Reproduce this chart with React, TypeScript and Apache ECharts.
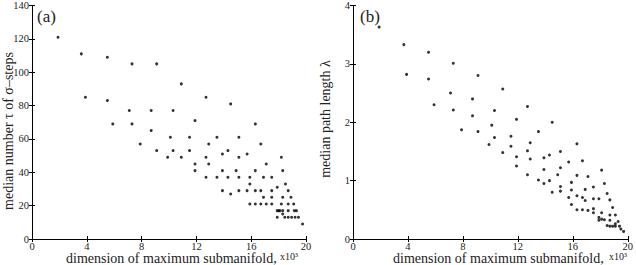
import React, { useEffect, useRef } from "react";
import * as echarts from "echarts";

// panel (a): median number tau of sigma-steps vs dimension (x10^3)
const tauPoints: [number, number][] = [
  [1.9, 121], [3.6, 111], [3.9, 85], [5.5, 109], [5.5, 83], [5.9, 69], [7.1, 77], [7.3, 105], [7.3, 69],
  [7.9, 57], [8.7, 77], [8.7, 65], [9.1, 105], [9.1, 53], [9.9, 49], [10.1, 61], [10.3, 77], [10.3, 53],
  [10.9, 93], [10.9, 49], [11.5, 61], [11.5, 53], [11.9, 71], [11.9, 45], [11.9, 41], [12.7, 85], [12.7, 49],
  [12.7, 37], [12.9, 57], [12.9, 45], [13.5, 61], [13.5, 37], [13.9, 51], [13.9, 41], [13.9, 29], [14.3, 53],
  [14.3, 37], [14.5, 81], [14.5, 27], [14.9, 41], [15.1, 61], [15.1, 49], [15.1, 37], [15.1, 29], [15.7, 51],
  [15.7, 29], [15.9, 37], [15.9, 33], [15.9, 21], [16.3, 69], [16.3, 41], [16.3, 29], [16.3, 21], [16.7, 57],
  [16.7, 29], [16.7, 21], [16.9, 37], [16.9, 25], [17.1, 45], [17.1, 21], [17.5, 37], [17.5, 29], [17.5, 25],
  [17.5, 21], [17.9, 31], [17.9, 17], [17.9, 13], [18.0, 17], [18.1, 17], [18.2, 49], [18.2, 21], [18.3, 41],
  [18.3, 25], [18.3, 17], [18.3, 15], [18.5, 33], [18.45, 13], [18.7, 29], [18.7, 21], [18.7, 17], [18.7, 13],
  [18.9, 25], [18.95, 13], [19.1, 21], [19.15, 17], [19.2, 13], [19.3, 17], [19.45, 13], [19.75, 9],
];

// panel (b): median path length lambda vs dimension (x10^3)
const lambdaPoints: [number, number][] = [
  [1.9, 3.63], [3.7, 3.33], [3.9, 2.82], [5.5, 3.2], [5.5, 2.74], [5.9, 2.3], [7.1, 2.5], [7.3, 3.01], [7.3, 2.21],
  [7.9, 1.87], [8.7, 2.4], [8.7, 2.11], [9.1, 2.8], [9.1, 1.84], [9.9, 1.62], [10.1, 1.95], [10.3, 2.2], [10.3, 1.74],
  [10.9, 2.57], [10.9, 1.48], [11.5, 1.76], [11.5, 1.59], [11.9, 2.05], [11.9, 1.41], [11.9, 1.25], [12.7, 2.27],
  [12.7, 1.51], [12.7, 1.1], [12.9, 1.65], [12.9, 1.37], [13.5, 1.84], [13.5, 1.01], [13.9, 1.39], [13.9, 1.19],
  [13.9, 0.95], [14.3, 1.44], [14.3, 1.0], [14.5, 2.0], [14.5, 0.8], [14.9, 1.1], [15.1, 1.5], [15.1, 1.22],
  [15.1, 0.9], [15.1, 0.82], [15.7, 1.32], [15.7, 0.71], [15.9, 0.97], [15.9, 0.84], [15.9, 0.59], [16.3, 1.63],
  [16.3, 1.09], [16.3, 0.74], [16.3, 0.5], [16.7, 1.34], [16.7, 0.71], [16.7, 0.5], [16.9, 0.85], [16.9, 0.66],
  [17.1, 1.07], [17.1, 0.49], [17.5, 0.89], [17.5, 0.69], [17.5, 0.52], [17.5, 0.45], [17.9, 0.69], [17.9, 0.37],
  [17.9, 0.32], [18.1, 1.18], [18.1, 0.45], [18.1, 0.34], [18.3, 0.95], [18.3, 0.33], [18.5, 0.78], [18.5, 0.23],
  [18.7, 0.67], [18.7, 0.41], [18.7, 0.32], [18.7, 0.22], [18.9, 0.54], [18.9, 0.22], [19.1, 0.41], [19.1, 0.26],
  [19.1, 0.22], [19.3, 0.3], [19.4, 0.22], [19.5, 0.17], [19.7, 0.13],
];

const xTitle = "dimension of maximum submanifold,";
const xScale = "x10³";
const yTitleA = "median number τ of σ–steps";
const yTitleB = "median path length λ";

const FONT = "Liberation Serif";
const TXT = "#222";

export default function App() {
  const ref = useRef<HTMLDivElement>(null);
  useEffect(() => {
    const chart = echarts.init(ref.current!, null, { renderer: "svg" });
    const tick = { show: true, inside: true, length: 3, lineStyle: { color: "#000", width: 1 } };
    const lab = { fontFamily: FONT, fontSize: 10.5, color: TXT };
    const mkX = (gi: number, top: boolean) => ({
      type: "value", gridIndex: gi, min: 0, max: 20, interval: 4, position: top ? "top" : "bottom",
      axisLine: { show: true, lineStyle: { color: "#000", width: 1 } }, axisTick: tick,
      axisLabel: top ? { show: false } : { ...lab, margin: 2 }, splitLine: { show: false },
    });
    const mkY = (gi: number, right: boolean, max: number, interval: number) => ({
      type: "value", gridIndex: gi, min: 0, max, interval, position: right ? "right" : "left",
      axisLine: { show: true, lineStyle: { color: "#000", width: 1 } }, axisTick: tick,
      axisLabel: right ? { show: false } : { ...lab, margin: 3 }, splitLine: { show: false },
    });
    const txt = (text: string, size: number, extra: any = {}) => ({
      text, fontFamily: FONT, fontSize: size, fill: TXT, ...extra,
    });
    chart.setOption({
      animation: false,
      backgroundColor: "#fff",
      grid: [
        { left: 32, top: 5, width: 274, height: 234 },
        { left: 353, top: 5, width: 276, height: 234 },
      ],
      xAxis: [mkX(0, false), mkX(0, true), mkX(1, false), mkX(1, true)],
      yAxis: [mkY(0, false, 140, 20), mkY(0, true, 140, 20), mkY(1, false, 4, 1), mkY(1, true, 4, 1)],
      series: [
        { type: "scatter", xAxisIndex: 0, yAxisIndex: 0, data: tauPoints, symbol: "circle", symbolSize: 3, itemStyle: { color: "#000" } },
        { type: "scatter", xAxisIndex: 2, yAxisIndex: 2, data: lambdaPoints, symbol: "circle", symbolSize: 3, itemStyle: { color: "#000" } },
      ],
      graphic: [
        { type: "text", left: 37, top: 8, style: txt("(a)", 17) },
        { type: "text", left: 360, top: 8, style: txt("(b)", 17) },
        { type: "text", left: 66, top: 251, style: txt(xTitle, 14) },
        { type: "text", left: 280, top: 251, style: txt(xScale, 10) },
        { type: "text", left: 393, top: 251, style: txt(xTitle, 14) },
        { type: "text", left: 609, top: 251, style: txt(xScale, 10) },
        { type: "text", x: 8, y: 131, rotation: Math.PI / 2, style: txt(yTitleA, 14, { align: "center", verticalAlign: "middle" }) },
        { type: "text", x: 325, y: 119, rotation: Math.PI / 2, style: txt(yTitleB, 14, { align: "center", verticalAlign: "middle" }) },
      ],
    });
    return () => chart.dispose();
  }, []);
  return <div ref={ref} style={{ position: "absolute", left: 0, top: 0, width: 636, height: 265 }} />;
}
